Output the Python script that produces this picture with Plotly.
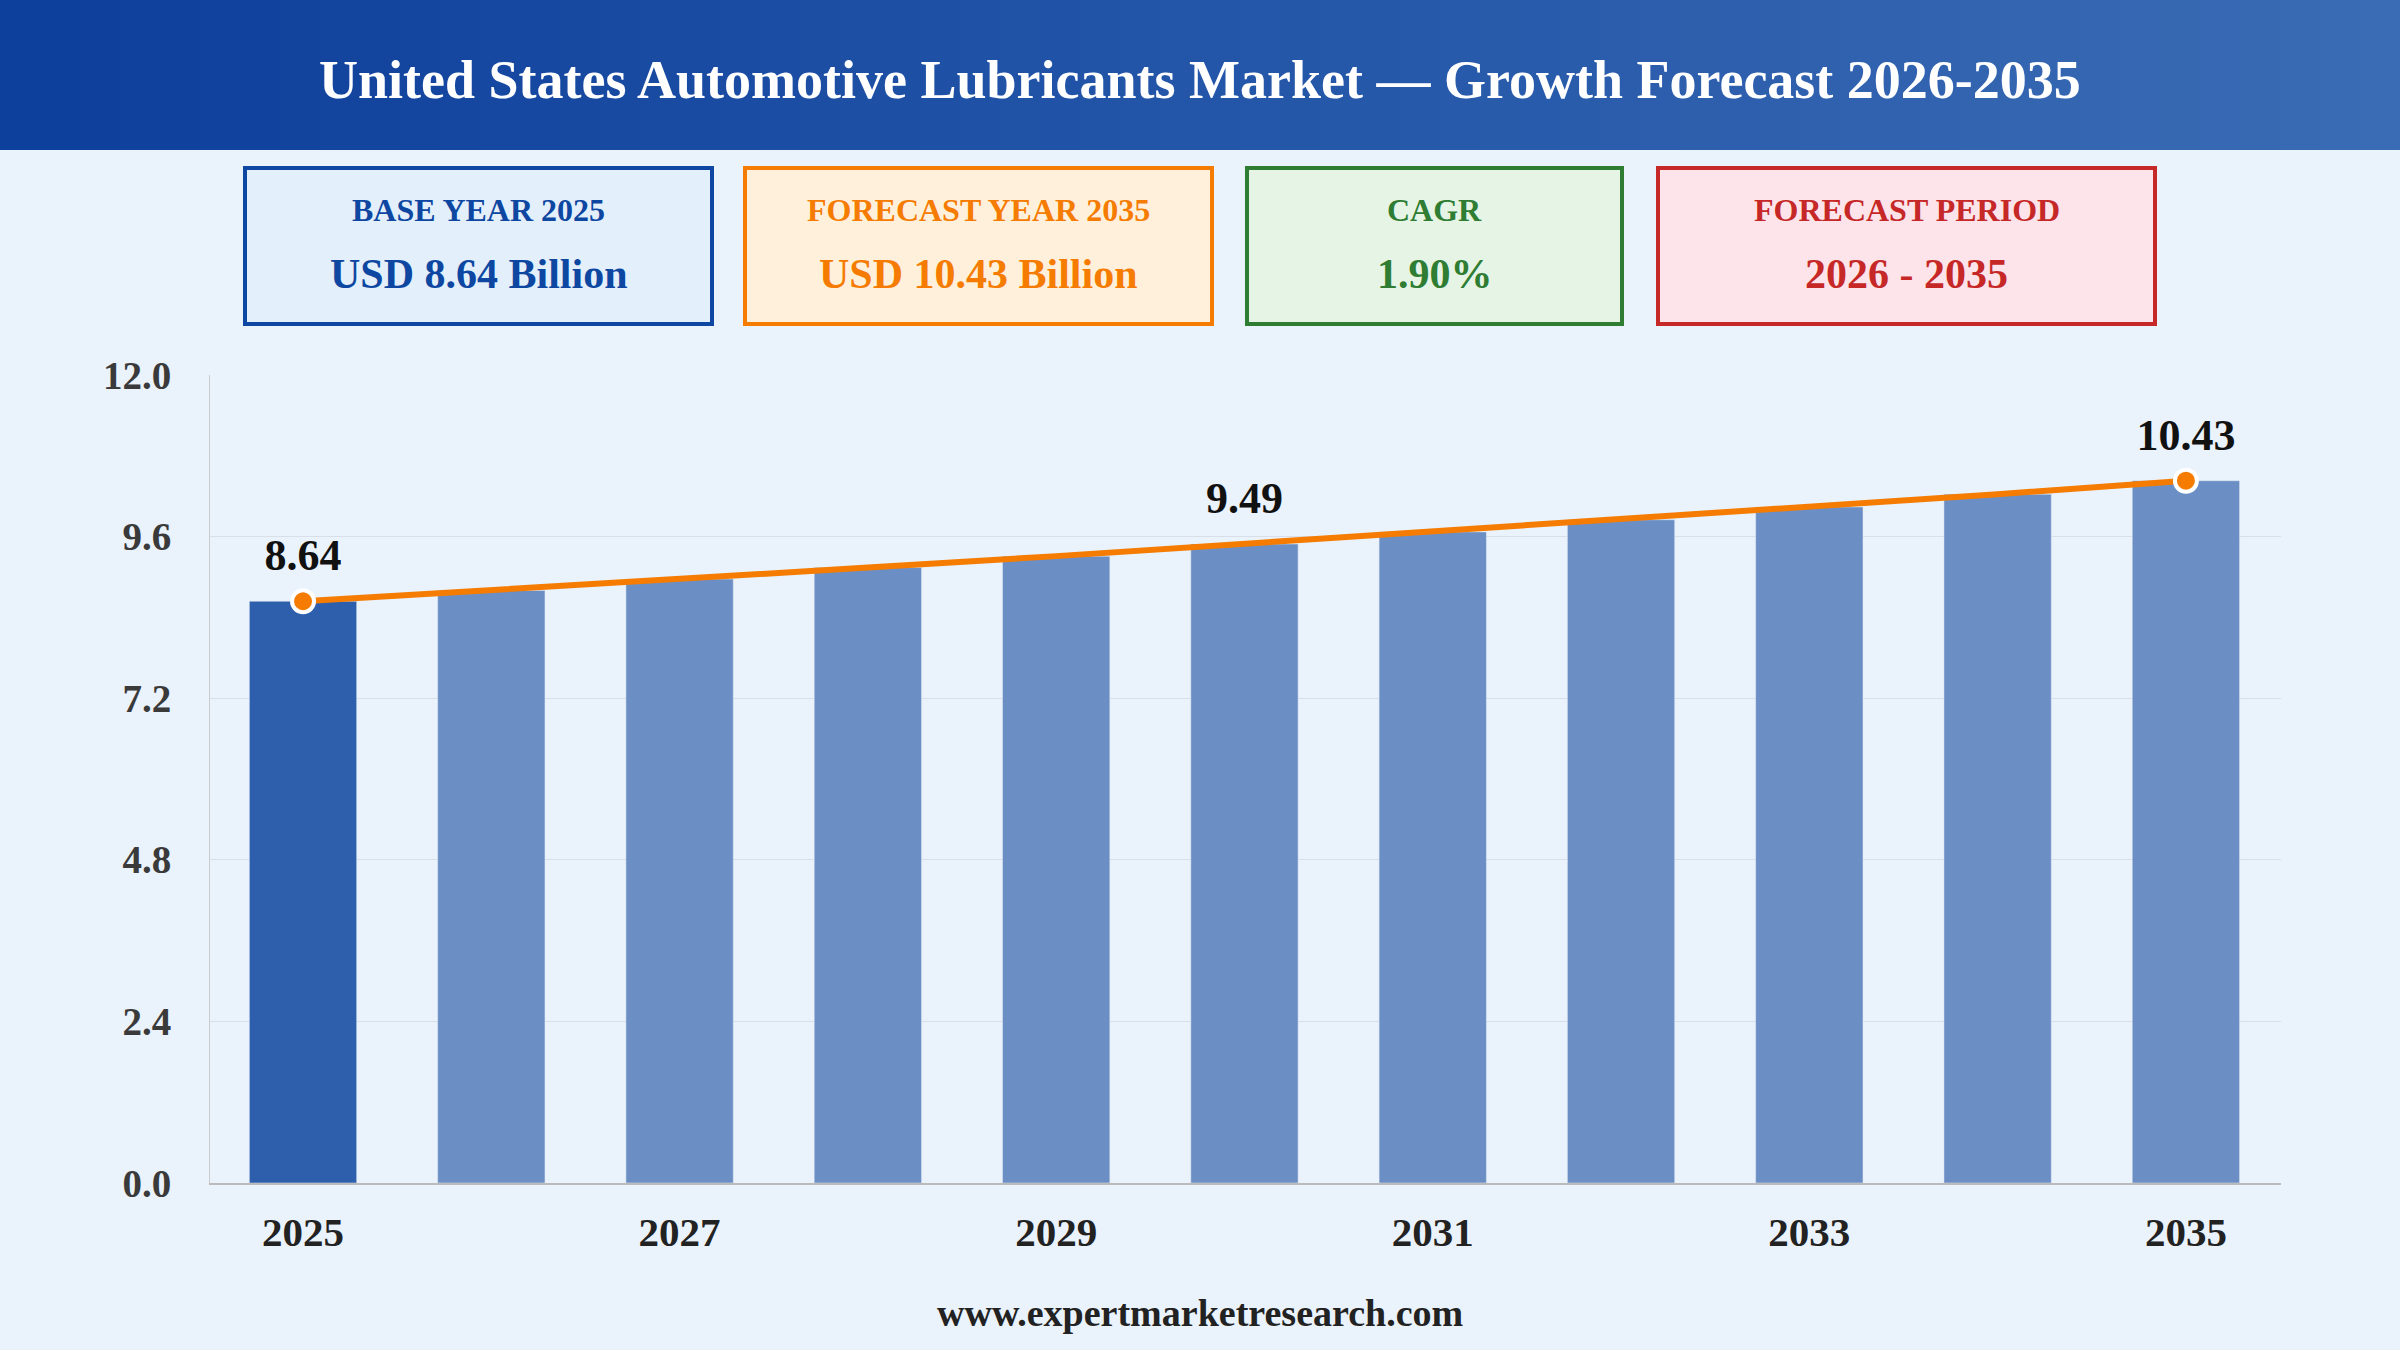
import plotly.graph_objects as go

years = [2025, 2026, 2027, 2028, 2029, 2030, 2031, 2032, 2033, 2034, 2035]
values = [8.64, 8.80, 8.97, 9.14, 9.31, 9.49, 9.67, 9.85, 10.04, 10.23, 10.43]
labeled_years = [2025, 2030, 2035]
tick_years = [2025, 2027, 2029, 2031, 2033, 2035]
y_ticks = [0.0, 2.4, 4.8, 7.2, 9.6, 12.0]

title = "United States Automotive Lubricants Market — Growth Forecast 2026-2035"
cards = [
    ("BASE YEAR 2025", "USD 8.64 Billion", "#0d47a1", "#e3f0fc"),
    ("FORECAST YEAR 2035", "USD 10.43 Billion", "#f57c00", "#fff0dc"),
    ("CAGR", "1.90%", "#2e7d32", "#e6f4e6"),
    ("FORECAST PERIOD", "2026 - 2035", "#c62828", "#fce4ea"),
]
card_x = [(245, 712), (745, 1212), (1247, 1622), (1658, 2155)]

W, H = 2400, 1350
FONT = "Liberation Serif"

fig = go.Figure()
bar_colors = ["#2d5fad"] + ["#6b8fc4"] * (len(years) - 1)
fig.add_trace(go.Bar(x=years, y=values, marker_color=bar_colors, width=0.57, hoverinfo="skip"))
fig.add_trace(go.Scatter(x=years, y=values, mode="lines", line=dict(color="#f57c00", width=6), hoverinfo="skip"))
lx = [y for y in years if y in (2025, 2035)]
ly = [values[years.index(y)] for y in lx]
fig.add_trace(go.Scatter(x=lx, y=ly, mode="markers",
                         marker=dict(size=22, color="#f57c00", line=dict(color="white", width=4)), hoverinfo="skip"))
ty = [values[years.index(y)] for y in labeled_years]
fig.add_trace(go.Scatter(x=labeled_years, y=[v + 0.62 for v in ty], mode="text",
                         text=[f"<b>{v:.2f}</b>" for v in ty], textfont=dict(family=FONT, size=44, color="#111"),
                         hoverinfo="skip"))

shapes = []
n = 60
c0, c1 = (13, 63, 156), (58, 108, 181)
for i in range(n):
    t = i / (n - 1)
    c = tuple(int(c0[k] + (c1[k] - c0[k]) * t) for k in range(3))
    shapes.append(dict(type="rect", xref="paper", yref="paper", x0=i / n, x1=(i + 1) / n + 0.002,
                       y0=1 - 150 / H, y1=1, fillcolor=f"rgb{c}", line_width=0, layer="below"))
annotations = [dict(text=f"<b>{title}</b>", xref="paper", yref="paper", x=0.5, y=1 - 80 / H,
                    xanchor="center", yanchor="middle",
                    showarrow=False, font=dict(family=FONT, size=54, color="white"))]
for (lab, val, col, bg), (x0, x1) in zip(cards, card_x):
    shapes.append(dict(type="rect", xref="paper", yref="paper", x0=x0 / W, x1=x1 / W,
                       y0=1 - 324 / H, y1=1 - 168 / H, fillcolor=bg, line=dict(color=col, width=4)))
    xc = (x0 + x1) / 2 / W
    annotations.append(dict(text=f"<b>{lab}</b>", xref="paper", yref="paper", x=xc, y=1 - 210 / H,
                            xanchor="center", yanchor="middle",
                            showarrow=False, font=dict(family=FONT, size=32, color=col)))
    annotations.append(dict(text=f"<b>{val}</b>", xref="paper", yref="paper", x=xc, y=1 - 274 / H,
                            xanchor="center", yanchor="middle",
                            showarrow=False, font=dict(family=FONT, size=42, color=col)))
annotations.append(dict(text="<b>www.expertmarketresearch.com</b>", xref="paper", yref="paper", x=0.5,
                        y=1 - 1313 / H, xanchor="center", yanchor="middle",
                        showarrow=False, font=dict(family=FONT, size=38, color="#222")))

fig.update_layout(
    width=W, height=H, paper_bgcolor="#eaf2fb", plot_bgcolor="#eaf2fb", showlegend=False,
    margin=dict(l=0, r=0, t=0, b=0, pad=0), shapes=shapes, annotations=annotations,
    xaxis=dict(domain=[210 / W, 2281 / W], range=[2024.506, 2035.505], tickvals=tick_years,
               ticktext=[f"<b>{y}</b>" for y in tick_years], automargin=False,
               tickfont=dict(family=FONT, size=41, color="#222"), showgrid=False,
               showline=True, linecolor="#bbb", linewidth=2, ticks="", ticklabelstandoff=12),
    yaxis=dict(domain=[1 - 1183 / H, 1 - 375 / H], range=[0, 12], tickvals=y_ticks, automargin=False,
               ticktext=[f"<b>{v:.1f}</b>" for v in y_ticks],
               tickfont=dict(family=FONT, size=39, color="#3a3a3a"), gridcolor="#d8dfe8", gridwidth=1,
               showline=True, linecolor="#ccc", zeroline=False, ticks="", ticklabelstandoff=30),
)
fig.write_html("out.html", config={"responsive": False, "displayModeBar": False},
               post_script="document.body.style.margin='0';")
